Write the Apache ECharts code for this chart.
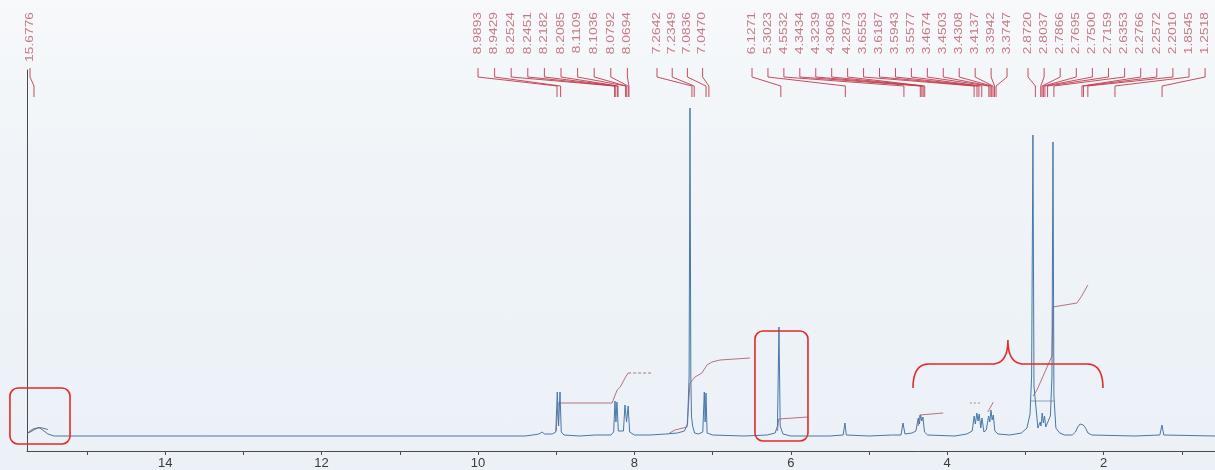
<!DOCTYPE html>
<html>
<head>
<meta charset="utf-8">
<script src="https://cdn.jsdelivr.net/npm/echarts@6/dist/echarts.min.js"></script>
<style>
html,body{margin:0;padding:0;}
body{background:linear-gradient(180deg,#f7f9fb 0%,#f0f4f8 35%,#ebf1f7 100%);}
#c{width:1215px;height:470px;}
</style>
</head>
<body>
<div id="c"></div>
<script>
// ---- DATA ----
// x axis (chemical shift, ppm)
const ppmMin = 0.575;
const ppmMax = 15.767;
const tickValues = [15, 14, 13, 12, 11, 10, 9, 8, 7, 6, 5, 4, 3, 2, 1];
const tickLabels = [14, 12, 10, 8, 6, 4, 2];

// spectrum trace: [ppm, intensity]
const spectrum = [
  [15.767, 2], [15.73, 5], [15.69, 7], [15.64, 8], [15.60, 8], [15.55, 5], [15.50, 2], [15.42, 0],
  [13.5, 0], [11.0, 0], [9.40, 0], [9.30, 1], [9.22, 2], [9.18, 4], [9.15, 2], [9.05, 2], [9.005, 4],
  [8.986, 44], [8.969, 10], [8.951, 44], [8.935, 4], [8.90, 1],
  [8.70, 0], [8.50, 1], [8.30, 1], [8.265, 4],
  [8.248, 35], [8.236, 14], [8.223, 34], [8.205, 5], [8.14, 5],
  [8.12, 31], [8.10, 14], [8.08, 30], [8.06, 4], [8.0, 1],
  [7.80, 1], [7.60, 2], [7.45, 3], [7.36, 5], [7.32, 12], [7.30, 60], [7.289, 328], [7.278, 60], [7.27, 20], [7.255, 10], [7.23, 3], [7.18, 2], [7.125, 4],
  [7.106, 44], [7.095, 14], [7.084, 43], [7.07, 3], [7.0, 1],
  [6.6, 0], [6.30, 1], [6.20, 3], [6.17, 10], [6.151, 109], [6.135, 10], [6.10, 2], [6.0, 0],
  [5.5, 0], [5.33, 1], [5.307, 13], [5.29, 1], [5.0, 0],
  [4.70, 1], [4.59, 1], [4.565, 13], [4.54, 2], [4.45, 3], [4.40, 5], [4.37, 18], [4.355, 12], [4.34, 21], [4.325, 15], [4.31, 19], [4.29, 4], [4.25, 1],
  [3.9, 0], [3.75, 2], [3.68, 5], [3.655, 20], [3.64, 12], [3.62, 23], [3.605, 15], [3.59, 22], [3.57, 8], [3.555, 18], [3.53, 4], [3.50, 6],
  [3.47, 20], [3.455, 14], [3.44, 26], [3.425, 16], [3.41, 21], [3.39, 5], [3.35, 2], [3.2, 1],
  [3.05, 3], [2.98, 8], [2.94, 22], [2.92, 60], [2.903, 301], [2.89, 50], [2.84, 8], [2.81, 14], [2.80, 10], [2.785, 23], [2.77, 13], [2.755, 20], [2.74, 9], [2.72, 8],
  [2.68, 20], [2.66, 60], [2.647, 294], [2.635, 40], [2.61, 8], [2.56, 3], [2.50, 1],
  [2.40, 1], [2.36, 4], [2.33, 9], [2.30, 12], [2.28, 13], [2.26, 11], [2.23, 8], [2.20, 3], [2.15, 1],
  [1.6, 0], [1.28, 1], [1.253, 11], [1.23, 1], [0.575, 0]
];

// integral curves: [ppm, level]
const integral1 = [[15.75, 3], [15.68, 6], [15.62, 8.5], [15.57, 8], [15.50, 6.5]];
const integral2 = [[9.00, 5], [8.975, 33], [8.286, 33], [8.22, 46], [8.18, 49], [8.12, 58], [8.08, 63]];
const integral2b = [[8.08, 63], [7.76, 63]];
const integral3 = [[7.55, 3], [7.481, 6], [7.327, 9], [7.289, 53], [7.225, 59], [7.136, 63], [7.072, 71], [7.008, 74], [6.905, 76], [6.522, 78]];
const integral4 = [[6.17, 5], [6.155, 17], [6.14, 19], [5.78, 19]];
const integral5 = [[4.37, 10], [4.35, 21], [4.05, 23]];
const integral6 = [[3.71, 33], [3.56, 33]];
const integral7 = [[3.48, 24], [3.41, 34]];
const integral8 = [[2.90, 40], [2.852, 46], [2.66, 80], [2.647, 129], [2.34, 133], [2.28, 140], [2.20, 151]];
const integral8b = [[2.93, 35], [2.63, 35]];

// peak-pick labels (ppm), one array per label block
const shiftsA = [15.6776];
const shiftsB = [8.9893, 8.9429, 8.2524, 8.2451, 8.2182, 8.2085, 8.1109, 8.1036, 8.0792, 8.0694];
const shiftsC = [7.2642, 7.2349, 7.0836, 7.0470];
const shiftsD = [6.1271, 5.3023, 4.5532, 4.3434, 4.3239, 4.3068, 4.2873, 3.6553, 3.6187, 3.5943, 3.5577, 3.4674, 3.4503, 3.4308, 3.4137, 3.3942, 3.3747];
const shiftsE = [2.8720, 2.8037, 2.7866, 2.7695, 2.7500, 2.7159, 2.6353, 2.2766, 2.2572, 2.2010, 1.8545, 1.2518];

// red hand annotations (ppm / level)
const boxLeft = [15.985, 15.217, 48, -8];
const boxMid = [6.458, 5.780, 105, -5];
const brace = { left: 4.437, right: 2.008, center: 3.223, endLevel: 48, armLevel: 72, tipLevel: 96 };

// ---- LAYOUT ----
const blocks = [
  { shifts: shiftsA, start: 30, step: 0 },
  { shifts: shiftsB, start: 478, step: 16.6 },
  { shifts: shiftsC, start: 657, step: 15.2 },
  { shifts: shiftsD, start: 752, step: 15.94 },
  { shifts: shiftsE, start: 1028, step: 16.1 }
];
const labelItems = [];
blocks.forEach(b => b.shifts.forEach((s, i) => {
  labelItems.push({ value: [s, 0, b.start + i * b.step], text: s.toFixed(4) });
}));

const chart = echarts.init(document.getElementById('c'), null, { renderer: 'canvas' });

function integralSeries(data, opts) {
  return Object.assign({
    type: 'line', data: data, showSymbol: false, silent: true, animation: false,
    lineStyle: { color: '#b8707c', width: 1 }, z: 3
  }, opts || {});
}

const option = {
  backgroundColor: 'transparent',
  animation: false,
  grid: { left: 27, right: 0, top: 70, bottom: 19, containLabel: false },
  xAxis: {
    type: 'value', inverse: true, min: ppmMin, max: ppmMax,
    axisLine: { show: true, onZero: false, lineStyle: { color: '#4a4a4a', width: 1 } },
    axisTick: { show: true, length: 4, inside: false, customValues: tickValues, lineStyle: { color: '#4a4a4a' } },
    axisLabel: { show: true, customValues: tickLabels, color: '#3a3a3a', fontSize: 13, fontFamily: 'Liberation Sans', margin: 6 },
    splitLine: { show: false }
  },
  yAxis: {
    type: 'value', min: -15, max: 366,
    axisLine: { show: true, onZero: false, lineStyle: { color: '#4a4a4a', width: 1 } },
    axisTick: { show: false }, axisLabel: { show: false }, splitLine: { show: false }
  },
  series: [
    {
      type: 'line', data: spectrum, showSymbol: false, silent: true,
      lineStyle: { color: '#4677a8', width: 1 }, z: 4
    },
    integralSeries(integral1, { lineStyle: { color: '#7a6a70', width: 1 } }),
    integralSeries(integral2),
    integralSeries(integral2b, { lineStyle: { color: '#b8707c', width: 1, type: [3, 2] } }),
    integralSeries(integral3),
    integralSeries(integral4),
    integralSeries(integral5),
    integralSeries(integral6, { lineStyle: { color: '#b08088', width: 1, type: [2, 2] } }),
    integralSeries(integral7),
    integralSeries(integral8),
    integralSeries(integral8b, { lineStyle: { color: '#8aa0b8', width: 1 } }),
    {
      type: 'custom', coordinateSystem: 'cartesian2d', clip: false, silent: true,
      encode: { x: 0, y: 1 },
      data: labelItems.map(d => d.value),
      renderItem: function (params, api) {
        const px = api.coord([api.value(0), 0])[0];
        const lx = api.value(2);
        const txt = labelItems[params.dataIndex].text;
        return {
          type: 'group',
          children: [
            {
              type: 'text', x: lx, y: 12, rotation: Math.PI / 2, scaleX: 1.38,
              style: { text: txt, fontSize: 10, fontFamily: 'Liberation Sans', fill: '#c77a86', align: 'right', verticalAlign: 'middle' }
            },
            {
              type: 'polyline',
              shape: { points: [[lx, 68], [lx, 77], [px, 86], [px, 97]] },
              style: { stroke: '#c03a4c', lineWidth: 0.9, fill: null }
            }
          ]
        };
      },
      z: 5
    }
  ]
};
chart.setOption(option);

// red annotations placed through the chart's own coordinate conversion
function P(ppm, lvl) { return chart.convertToPixel({ gridIndex: 0 }, [ppm, lvl]); }
function boxGraphic(b) {
  const a = P(b[0], b[2]), c = P(b[1], b[3]);
  return {
    type: 'rect', silent: true, z: 100,
    shape: { x: a[0], y: a[1], width: c[0] - a[0], height: c[1] - a[1], r: 8 },
    style: { stroke: '#e32b2b', fill: 'none', lineWidth: 1.6 }
  };
}
function quad(p0, c, p1, n) {
  const pts = [];
  for (let i = 0; i <= n; i++) {
    const t = i / n;
    pts.push([(1 - t) * (1 - t) * p0[0] + 2 * (1 - t) * t * c[0] + t * t * p1[0],
              (1 - t) * (1 - t) * p0[1] + 2 * (1 - t) * t * c[1] + t * t * p1[1]]);
  }
  return pts;
}
const L = P(brace.left, brace.endLevel), R = P(brace.right, brace.endLevel);
const C = P(brace.center, brace.tipLevel);
const armY = P(brace.center, brace.armLevel)[1];
const r = 16;
let bp = [];
bp = bp.concat(quad(L, [L[0], armY], [L[0] + r, armY], 12));
bp = bp.concat(quad([C[0] - r, armY], [C[0], armY], C, 12));
bp = bp.concat(quad(C, [C[0], armY], [C[0] + r, armY], 12));
bp = bp.concat(quad([R[0] - r, armY], [R[0], armY], R, 12));

chart.setOption({
  graphic: [
    boxGraphic(boxLeft),
    boxGraphic(boxMid),
    { type: 'polyline', silent: true, z: 100, shape: { points: bp }, style: { stroke: '#e32b2b', fill: 'none', lineWidth: 1.6 } }
  ]
});
</script>
</body>
</html>
